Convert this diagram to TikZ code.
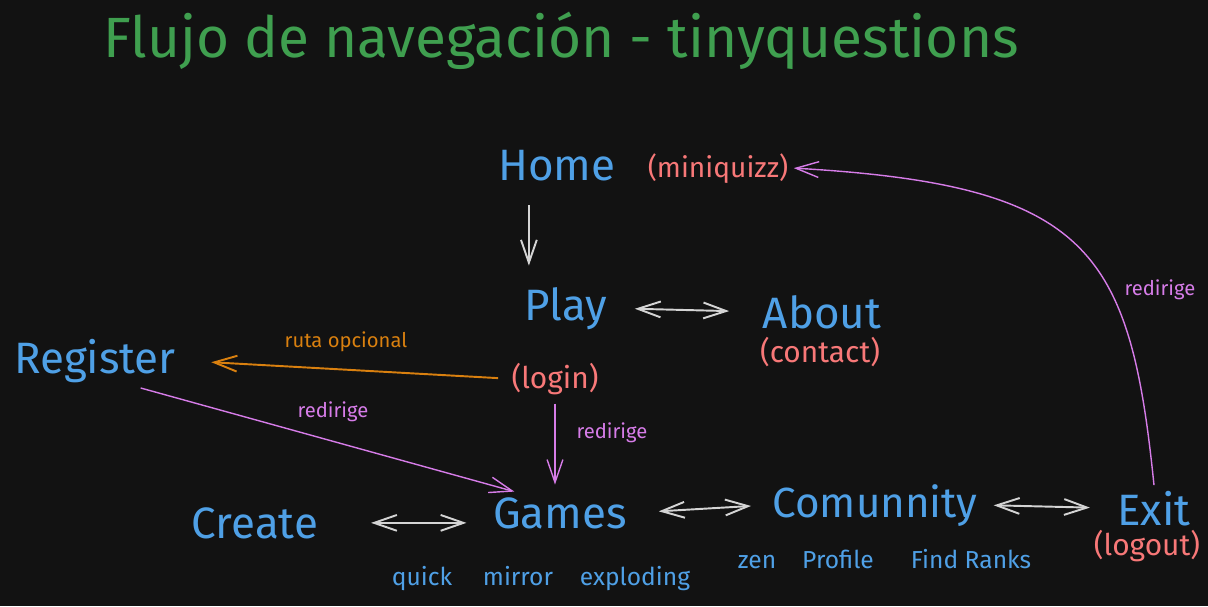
\documentclass[tikz,border=0pt]{standalone}
\usepackage{fontspec}
\setmainfont{Fira Sans}
\usepackage{xcolor}
\usepackage{tikz}
\usetikzlibrary{arrows.meta, positioning, calc}
\definecolor{bgdark}{HTML}{121212}
\definecolor{navblue}{HTML}{4FA0E6}
\definecolor{notered}{HTML}{F87878}
\definecolor{titlegreen}{HTML}{3F9F4F}
\definecolor{redirpink}{HTML}{D67CE8}
\definecolor{optorange}{HTML}{D9800F}
\definecolor{arrgray}{HTML}{D4D4D4}

\begin{document}
\begin{tikzpicture}[
  x=0.02cm, y=-0.02cm,
  screen/.style={font=\fontsize{25}{30}\selectfont, color=navblue, anchor=base, inner sep=3pt},
  detail/.style={font=\fontsize{17}{20}\selectfont, color=notered, anchor=base, inner sep=3pt},
  feature/.style={font=\fontsize{14}{17}\selectfont, color=navblue, anchor=base},
  arrlabel/.style={font=\fontsize{11.5}{14}\selectfont, anchor=base},
  arr/.style={-{Straight Barb[length=13pt, width=9pt]}, line width=1.1pt, color=arrgray},
  biarr/.style={{Straight Barb[length=13pt, width=9pt]}-{Straight Barb[length=13pt, width=9pt]},
                line width=1.1pt, color=arrgray},
  redir/.style={-{Straight Barb[length=13pt, width=9pt]}, line width=0.8pt, color=redirpink},
  optarr/.style={-{Straight Barb[length=13pt, width=9pt]}, line width=1.1pt, color=optorange}
]
  \path[use as bounding box, fill=bgdark] (0,0) rectangle (1208,606);

  % Title
  \node[anchor=base, font=\fontsize{32.3}{38}\selectfont, color=titlegreen] (title) at (561,57)
       {Flujo de navegación - tinyquestions};

  % Main screens
  \node[screen] (home) at (557,180) {Home};
  \node[detail, font=\fontsize{16}{20}\selectfont] (mini) at (718,177) {(miniquizz)};
  \node[screen] (play) at (566,320) {Play};
  \node[screen] (about) at (822,328) {About};
  \node[detail] (contact) at (820,362) {(contact)};
  \node[screen] (reg) at (95,373) {Register};
  \node[detail] (login) at (555,388) {(login)};
  \node[screen] (create) at (255,538) {Create};
  \node[screen] (games) at (560,528) {Games};
  \node[screen, font=\fontsize{24}{30}\selectfont] (comm) at (875,517) {Comunnity};
  \node[screen] (exit) at (1154,525) {Exit};
  \node[detail] (logout) at (1147,555) {(logout)};

  % Sub pages
  \node[feature] (quick) at (422,585) {quick};
  \node[feature] (mirror) at (518,585) {mirror};
  \node[feature] (exploding) at (635,585) {exploding};
  \node[feature] (zen) at (757,568) {zen};
  \node[feature] (profile) at (838,568) {Profile};
  \node[feature] (ranks) at (971,568) {Find Ranks};

  % Navigation
  \draw[arr, shorten <=11pt, shorten >=9pt] ([xshift=-16pt]home.south) -- ([xshift=-16pt]home.south |- play.north);
  \draw[biarr, shorten <=12.5pt, shorten >=16pt] (play.east) -- (about.west);
  \draw[biarr, shorten <=27pt, shorten >=12pt] (create.east) -- (create.east -| games.west);
  \draw[biarr, shorten <=15pt, shorten >=9pt] (games.east) -- (comm.west);
  \draw[biarr, shorten <=6pt, shorten >=12.5pt] (comm.east) -- (exit.west);

  % Login / register
  \draw[optarr, shorten <=4.5pt, shorten >=17pt] (login.west) -- (reg.east);
  \node[arrlabel, color=optorange] (ruta) at (346,347) {ruta opcional};
  \draw[redir] (reg.-31) -- (games.155);
  \node[arrlabel, color=redirpink] (redir1) at (333,417) {redirige};
  \draw[redir, shorten <=2pt, shorten >=4pt] (login.south) -- (login.south |- games.north);
  \node[arrlabel, color=redirpink] (redir2) at (612,438) {redirige};

  % Logout back to home
  \draw[redir] (exit.north) .. controls (1130,250) and (1090,185) .. (mini.east);
  \node[arrlabel, color=redirpink] (redir3) at (1160,295) {redirige};
\end{tikzpicture}
\end{document}
